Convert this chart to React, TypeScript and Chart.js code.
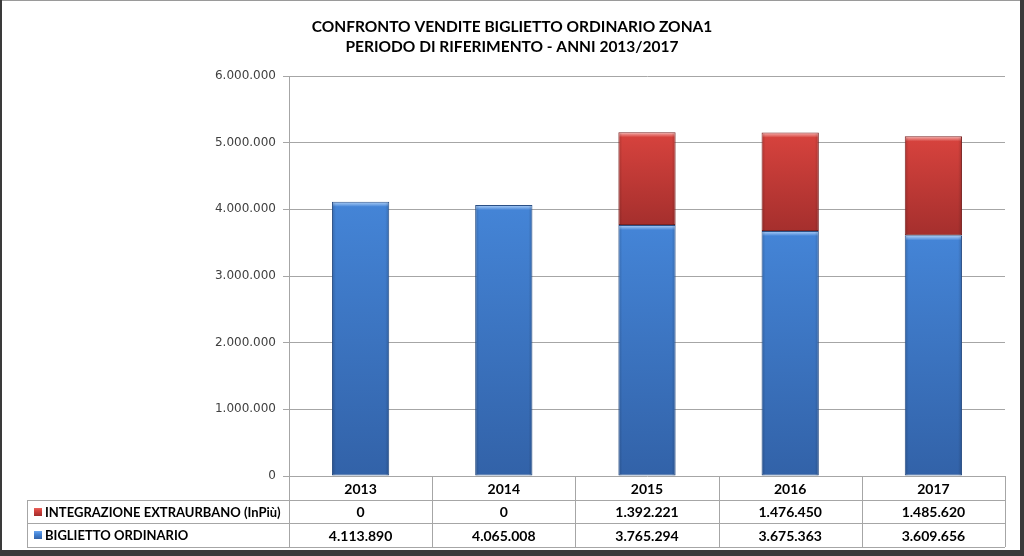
import React, { useEffect, useRef } from "react";
import { Chart, registerables } from "chart.js";
Chart.register(...registerables);

const years = ["2013", "2014", "2015", "2016", "2017"];
const ordinario = [4113890, 4065008, 3765294, 3675363, 3609656];
const integrazione = [0, 0, 1392221, 1476450, 1485620];
const labelIntegrazione = "INTEGRAZIONE EXTRAURBANO (InPiù)";
const labelOrdinario = "BIGLIETTO ORDINARIO";
const titleLines = [
  "CONFRONTO VENDITE BIGLIETTO ORDINARIO ZONA1",
  "PERIODO DI RIFERIMENTO - ANNI 2013/2017",
];
const yMax = 6000000;
const yStep = 1000000;

const BLUE = ["#6aa5ee", "#4484d6", "#3262a8"];
const RED = ["#ec6a64", "#d5423d", "#a52f2d"];
const NARROW = "Lato, 'Liberation Sans', sans-serif";

const fmt = (v: number) => Math.round(v).toString().replace(/\B(?=(\d{3})+(?!\d))/g, ".");

function barFill(stops: string[], dsIndex: number) {
  return (c: any) => {
    const chart = c.chart;
    const y = chart.scales && chart.scales.y;
    if (!y || c.type !== "data" || !chart.chartArea) return stops[1];
    const i = c.dataIndex;
    let base = 0;
    for (let d = 0; d < dsIndex; d++) base += chart.data.datasets[d].data[i] || 0;
    const top = base + (chart.data.datasets[dsIndex].data[i] || 0);
    const y0 = y.getPixelForValue(top);
    const y1 = y.getPixelForValue(base);
    if (!(y1 > y0 + 1)) return stops[1];
    const g = chart.ctx.createLinearGradient(0, y0, 0, y1);
    g.addColorStop(0, stops[0]);
    g.addColorStop(Math.min(0.5, 5 / (y1 - y0)), stops[1]);
    g.addColorStop(1, stops[2]);
    return g;
  };
}

const framePlugin = {
  id: "frame",
  beforeDraw(chart: any) {
    const ctx = chart.ctx;
    const W = chart.width, H = chart.height;
    ctx.save();
    ctx.fillStyle = "#3a3a3a";
    ctx.fillRect(0, 0, W, H);
    ctx.fillStyle = "#9a9a9a";
    ctx.fillRect(2, 0, W - 6, 1);
    ctx.fillStyle = "#ffffff";
    ctx.fillRect(2, 1, W - 6, H - 7);
    ctx.restore();
  },
};

const bevelPlugin = {
  id: "bevel",
  afterDatasetsDraw(chart: any) {
    const ctx = chart.ctx;
    ctx.save();
    chart.data.datasets.forEach((ds: any, di: number) => {
      const meta = chart.getDatasetMeta(di);
      meta.data.forEach((el: any) => {
        const p = el.getProps(["x", "y", "base", "width"], true);
        const h = p.base - p.y;
        if (h < 2) return;
        const l = p.x - p.width / 2, r = p.x + p.width / 2;
        const g = ctx.createLinearGradient(0, p.y, 0, p.y + 5);
        g.addColorStop(0, "rgba(255,255,255,0.45)");
        g.addColorStop(1, "rgba(255,255,255,0)");
        ctx.fillStyle = g;
        ctx.fillRect(l + 1, p.y + 1, p.width - 2, 5);
        const gl = ctx.createLinearGradient(l, 0, l + 4, 0);
        gl.addColorStop(0, "rgba(0,0,0,0.18)");
        gl.addColorStop(1, "rgba(0,0,0,0)");
        ctx.fillStyle = gl;
        ctx.fillRect(l + 1, p.y + 1, 4, h - 1);
        const gr = ctx.createLinearGradient(r - 4, 0, r, 0);
        gr.addColorStop(0, "rgba(0,0,0,0)");
        gr.addColorStop(1, "rgba(0,0,0,0.18)");
        ctx.fillStyle = gr;
        ctx.fillRect(r - 5, p.y + 1, 4, h - 1);
      });
    });
    ctx.restore();
  },
};

const tablePlugin = {
  id: "table",
  afterDraw(chart: any) {
    const ctx = chart.ctx;
    const a = chart.chartArea;
    const n = years.length;
    const cw = (a.right - a.left) / n;
    const rows = [a.bottom, a.bottom + 24, a.bottom + 47, a.bottom + 71];
    const left = 27;
    ctx.save();
    ctx.fillStyle = "#000";
    ctx.textAlign = "center";
    ctx.textBaseline = "middle";
    ctx.font = "bold 15.5px " + NARROW;
    ctx.fillText(titleLines[0], 512, 27);
    ctx.fillText(titleLines[1], 512, 47);

    ctx.strokeStyle = "#a6a6a6";
    ctx.lineWidth = 1;
    ctx.beginPath();
    for (let r = 1; r < rows.length; r++) {
      const yy = Math.round(rows[r]) + 0.5;
      ctx.moveTo(left, yy);
      ctx.lineTo(a.right, yy);
    }
    for (let c = 0; c <= n; c++) {
      const xx = Math.round(a.left + c * cw) + 0.5;
      ctx.moveTo(xx, rows[0]);
      ctx.lineTo(xx, rows[3]);
    }
    ctx.moveTo(left + 0.5, rows[1]);
    ctx.lineTo(left + 0.5, rows[3]);
    ctx.stroke();

    ctx.fillStyle = "#000";
    ctx.font = "bold 14px " + NARROW;
    ctx.textAlign = "center";
    const mid = (r: number) => (rows[r] + rows[r + 1]) / 2 + 1;
    years.forEach((yr, c) => {
      const cx = a.left + (c + 0.5) * cw;
      ctx.fillText(yr, cx, mid(0));
      ctx.fillText(fmt(integrazione[c]), cx, mid(1));
      ctx.fillText(fmt(ordinario[c]), cx, mid(2));
    });
    ctx.font = "bold 13px " + NARROW;
    ctx.textAlign = "left";
    ctx.fillText(labelIntegrazione, 45, mid(1));
    ctx.fillText(labelOrdinario, 45, mid(2));

    const square = (y: number, stops: string[]) => {
      const g = ctx.createLinearGradient(0, y - 4, 0, y + 4);
      g.addColorStop(0, stops[0]);
      g.addColorStop(0.4, stops[1]);
      g.addColorStop(1, stops[2]);
      ctx.fillStyle = g;
      ctx.fillRect(34, Math.round(y) - 4, 8, 8);
    };
    square(mid(1) - 1, RED);
    square(mid(2) - 1, BLUE);
    ctx.restore();
  },
};

export default function App() {
  const ref = useRef<HTMLCanvasElement>(null);
  useEffect(() => {
    document.body.style.margin = "0";
    const chart = new Chart(ref.current as HTMLCanvasElement, {
      type: "bar",
      data: {
        labels: years,
        datasets: [
          {
            label: labelOrdinario,
            data: ordinario,
            backgroundColor: barFill(BLUE, 0),
            borderColor: "#2a4f85",
            borderWidth: 1,
            borderSkipped: false,
            barPercentage: 0.4,
            categoryPercentage: 1,
          },
          {
            label: labelIntegrazione,
            data: integrazione,
            backgroundColor: barFill(RED, 1),
            borderColor: "#7a2322",
            borderWidth: 1,
            borderSkipped: false,
            barPercentage: 0.4,
            categoryPercentage: 1,
          },
        ],
      },
      options: {
        responsive: false,
        animation: false,
        layout: { padding: { top: 76, bottom: 80, left: 0, right: 19 } },
        plugins: { legend: { display: false }, tooltip: { enabled: false }, title: { display: false } },
        scales: {
          x: { stacked: true, display: false },
          y: {
            stacked: true,
            min: 0,
            max: yMax,
            afterFit: (s: any) => { s.width = 289; },
            ticks: {
              stepSize: yStep,
              color: "#404040",
              padding: 7,
              font: { family: "'DejaVu Sans', sans-serif", size: 12 },
              callback: (v: any) => fmt(Number(v)),
            },
            grid: { color: "#a6a6a6", tickLength: 6, lineWidth: 1 },
            border: { color: "#a6a6a6" },
          },
        },
      },
      plugins: [framePlugin, bevelPlugin, tablePlugin],
    });
    return () => chart.destroy();
  }, []);
  return (
    <div style={{ position: "absolute", left: 0, top: 0, width: 1024, height: 556 }}>
      <canvas ref={ref} width={1024} height={556} />
    </div>
  );
}
